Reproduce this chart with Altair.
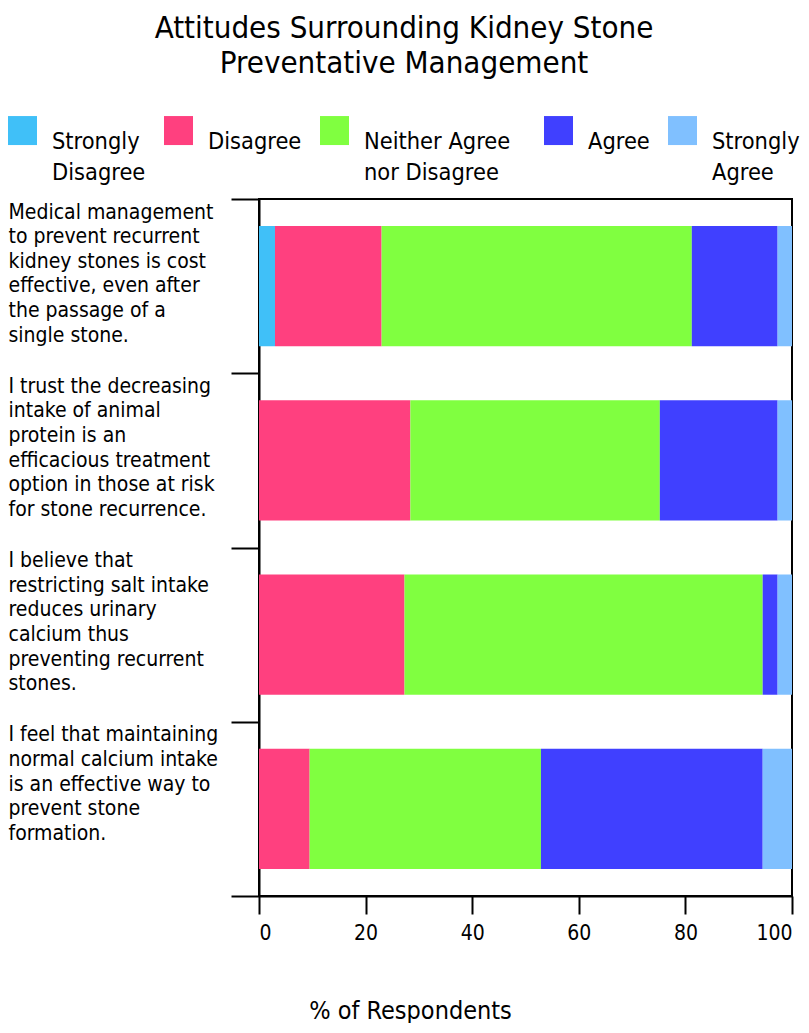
import altair as alt
import pandas as pd

statements = [
    "Medical management|to prevent recurrent|kidney stones is cost|effective, even after|the passage of a|single stone.",
    "I trust the decreasing|intake of animal|protein is an|efficacious treatment|option in those at risk|for stone recurrence.",
    "I believe that|restricting salt intake|reduces urinary|calcium thus|preventing recurrent|stones.",
    "I feel that maintaining|normal calcium intake|is an effective way to|prevent stone|formation.",
]
responses = ["Strongly|Disagree", "Disagree", "Neither Agree|nor Disagree", "Agree", "Strongly|Agree"]
colors = ["#40C0F8", "#FF407F", "#80FF40", "#4040FF", "#80C0FF"]

strongly_disagree = [3.0, 0.0, 0.0, 0.0]
disagree = [20.0, 28.4, 27.3, 9.5]
neither = [58.2, 46.8, 67.2, 43.4]
agree = [16.1, 22.1, 2.8, 41.6]
strongly_agree = [2.7, 2.7, 2.7, 5.5]

series = [strongly_disagree, disagree, neither, agree, strongly_agree]
rows = []
for ri, (resp, vals) in enumerate(zip(responses, series)):
    for si, (st, v) in enumerate(zip(statements, vals)):
        rows.append({"statement": st, "response": resp, "order": ri, "value": v})
df = pd.DataFrame(rows)

FONT = "DejaVu Sans Condensed, Liberation Sans, sans-serif"

# multi-line legend labels; single-line labels get a blank second line so that
# every entry is top-aligned; one invisible blank cell widens the third column
BLANK = "\u2800"
legend_label_expr = (
    f"datum.label == 'Agree' ? ['Agree', '{BLANK}'] : "
    f"datum.label == 'Disagree' ? ['Disagree', '{BLANK}'] : "
    f"datum.label == 'Neither Agree|nor Disagree' ? ['Neither Agree{BLANK}', 'nor Disagree'] : "
    "split(datum.label, '|')"
)

chart = alt.Chart(df).mark_bar(height=alt.RelativeBandSize(0.69)).encode(
    x=alt.X("value:Q", stack="zero",
            scale=alt.Scale(domain=[0, 100], nice=False),
            axis=alt.Axis(title="% of Respondents", values=[0, 20, 40, 60, 80, 100],
                          grid=False, tickSize=18, tickWidth=2, domainWidth=2,
                          domainColor="black", tickColor="black",
                          labelFontSize=21, labelPadding=8, labelColor="black",
                          titleFontSize=25, titleFontWeight="normal", titleColor="black",
                          titleX=151, titleY=122, titleBaseline="alphabetic")),
    y=alt.Y("statement:N", sort=statements,
            scale=alt.Scale(paddingInner=0, paddingOuter=0),
            axis=alt.Axis(title=None, tickBand="extent", tickSize=28, tickWidth=2,
                          domainWidth=2, domainColor="black", tickColor="black",
                          labelAlign="left", labelBaseline="top", labelPadding=223,
                          labelOffset=-85, labelFontSize=21, labelLimit=400,
                          labelLineHeight=24.6, labelColor="black",
                          labelExpr="split(datum.label, '|')")),
    color=alt.Color("response:N", sort=responses,
                    scale=alt.Scale(domain=responses, range=colors),
                    legend=alt.Legend(title=None, orient="none", direction="horizontal",
                                      legendX=-251, legendY=-83,
                                      symbolType="square", symbolSize=841,
                                      symbolStrokeWidth=0, symbolOpacity=1,
                                      labelFontSize=23.4, labelLimit=400,
                                      labelOffset=15, columnPadding=18,
                                      labelBaseline="top",
                                      labelColor="black",
                                      labelExpr=legend_label_expr)),
    order=alt.Order("order:Q"),
).properties(
    width=533,
    height=697,
    padding={"left": 0, "top": 5, "right": 0, "bottom": 0},
    title=alt.Title(["Attitudes Surrounding Kidney Stone", "Preventative Management"],
                    fontSize=31, fontWeight="normal", font=FONT, color="black",
                    anchor="middle", frame="bounds", lineHeight=35, offset=36),
).configure(
    font=FONT,
    style={"guide-label": {"lineHeight": 31}},
).configure_view(stroke="black", strokeWidth=2)

chart.save("out.html", embed_options={"renderer": "svg", "actions": False})
